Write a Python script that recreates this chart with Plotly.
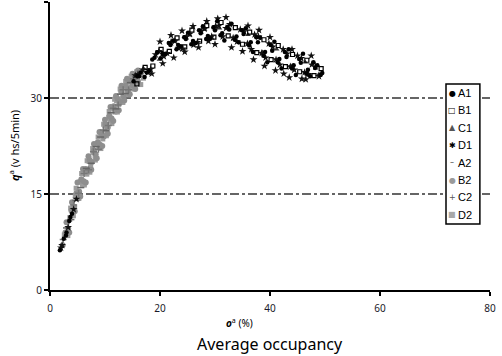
import plotly.graph_objects as go

# ---------------- data ----------------
A1_x = [1.8, 2.5, 2.9, 3.0, 3.5, 3.7, 4.0,
        15.2, 16.5, 18.0, 19.5, 21.0, 22.4, 23.8, 25.1, 26.5, 27.8, 29.1, 30.4, 31.7,
        33.0, 34.3, 35.6, 36.9, 38.2, 39.5, 40.8, 42.1, 43.4, 44.7, 46.0, 47.3, 48.6,
        15.9, 17.2, 18.6, 20.1, 21.6, 23.0, 24.4, 25.7, 27.1, 28.4, 29.7, 31.0, 32.3,
        33.6, 34.9, 36.2, 37.5, 38.8, 40.1, 41.4, 42.7, 44.0, 45.3, 46.6, 47.9, 49.2,
        16.2, 17.6, 19.0, 20.5, 21.9, 23.3, 24.7, 26.0, 27.4, 28.7, 30.0, 31.3, 32.6,
        33.9, 35.2, 36.5, 37.8, 39.1, 40.4, 41.7, 43.0, 44.3, 45.6, 46.9, 48.2, 49.5]
A1_y = [6.2, 8.0, 8.5, 9.0, 10.8, 11.4, 11.9,
        32.6, 34.0, 34.2, 37.1, 36.9, 39.0, 38.1, 40.2, 38.6, 41.2, 39.3, 42.0, 39.0,
        41.6, 38.7, 40.9, 37.2, 39.4, 35.6, 38.8, 34.6, 37.6, 33.6, 36.9, 33.4, 35.1,
        33.4, 33.3, 36.0, 36.2, 38.6, 37.6, 39.5, 38.4, 40.6, 39.2, 41.0, 39.8, 41.1,
        39.1, 40.6, 38.2, 39.5, 36.6, 38.3, 35.6, 37.2, 34.6, 36.1, 33.8, 35.6, 33.6,
        33.4, 34.0, 36.3, 36.9, 38.3, 38.3, 39.2, 38.9, 40.1, 39.7, 40.6, 40.1, 40.7,
        39.6, 40.0, 38.7, 38.7, 37.2, 37.4, 36.1, 36.4, 35.1, 35.5, 34.4, 34.7, 33.9]

B1_x = [15.8, 17.3, 18.7, 20.2, 21.7, 23.1, 24.5, 25.8, 27.2, 28.5, 29.8, 31.1, 32.4,
        33.7, 35.0, 36.3, 37.6, 38.9, 40.2, 41.5, 42.8, 44.1, 45.4, 46.7, 48.0, 49.3]
B1_y = [32.2, 34.8, 35.0, 37.6, 37.3, 39.4, 38.0, 40.6, 38.9, 41.3, 39.5, 41.8, 39.7,
        41.0, 38.4, 40.3, 37.1, 39.1, 36.0, 38.2, 34.9, 36.8, 34.1, 35.9, 33.5, 34.6]

C1_x = [17.0, 19.9, 22.7, 25.4, 28.1, 30.8, 33.4, 36.0, 38.6, 41.2, 43.8, 46.4, 48.9]
C1_y = [34.6, 36.0, 38.9, 39.8, 40.7, 40.9, 39.2, 39.9, 37.2, 37.6, 35.0, 35.6, 33.7]

D1_x = [2.0, 2.2, 3.3, 4.3, 4.8,
        16.0, 17.8, 19.2, 20.7, 22.0, 23.4, 24.8, 26.1, 27.5, 28.8, 30.1, 31.4, 32.7,
        34.0, 35.3, 36.6, 37.9, 39.2, 40.5, 41.8, 43.1, 44.4, 45.7, 47.0, 48.3,
        15.5, 16.9, 18.3, 19.8, 21.3, 22.7, 24.1, 25.4, 26.8, 28.1, 29.4, 30.7, 32.0,
        33.3, 34.6, 35.9, 37.2, 38.5, 39.8, 41.1, 42.4, 43.7, 45.0, 46.3, 47.6, 48.9,
        42.5, 44.0, 45.8, 40.0, 38.0, 36.0, 30.5, 28.5, 32.0, 26.0, 24.0, 22.0, 20.0,
        47.5, 46.5, 43.5, 41.0, 39.0, 37.0, 35.0, 33.0, 30.0, 27.0, 24.5, 22.5, 20.5, 18.5]
D1_y = [6.6, 7.0, 9.8, 12.6, 14.2,
        33.7, 34.0, 36.8, 36.5, 38.7, 37.8, 39.6, 38.3, 40.5, 38.9, 41.2, 39.6, 41.5,
        38.8, 40.4, 37.6, 39.6, 36.3, 38.0, 35.2, 36.9, 34.4, 36.2, 33.7, 34.9,
        33.5, 34.4, 34.5, 37.3, 37.0, 38.9, 37.7, 40.0, 38.7, 40.8, 39.6, 41.3, 40.9,
        39.4, 40.7, 38.5, 39.9, 37.0, 38.5, 36.0, 37.6, 34.9, 36.6, 34.0, 35.2, 33.4,
        33.8, 37.6, 33.0, 39.5, 40.6, 41.3, 42.4, 42.0, 42.6, 41.2, 40.5, 39.8, 38.8,
        36.6, 32.9, 33.2, 34.3, 35.0, 36.0, 37.3, 37.9, 38.4, 37.9, 37.2, 36.3, 35.4, 33.8]

A2_x = [3.0, 3.8, 4.7, 5.6, 6.6, 7.5, 8.4, 9.2, 10.2, 11.1, 12.0, 12.8, 13.7, 14.6, 15.6]
A2_y = [9.7, 11.0, 14.0, 16.0, 19.0, 19.8, 22.4, 23.9, 24.9, 27.7, 28.3, 30.6, 30.7, 32.4, 33.3]

B2_x = [2.3, 2.8, 3.3, 3.9, 4.4, 4.8, 5.3, 5.7, 6.1, 6.5, 6.9, 7.2, 7.6, 8.0, 8.3, 8.7,
        9.1, 9.4, 9.8, 10.1, 10.5, 10.8, 11.2, 11.6, 11.9, 12.3, 12.7, 13.0, 13.4, 13.8,
        14.2, 14.6, 15.0, 15.5, 16.0, 16.6,
        3.0, 3.5, 4.0, 4.5, 5.0, 5.5, 6.0, 6.5, 7.0, 7.5, 8.0, 8.5, 9.0, 9.5, 10.0,
        10.5, 11.0, 11.5, 12.0, 12.5, 13.0, 13.5, 14.0, 14.5, 15.0, 15.5, 16.0]
B2_y = [7.0, 9.0, 9.6, 12.4, 13.0, 15.1, 15.4, 17.3, 17.0, 18.9, 18.6, 20.3, 20.0, 21.8,
        21.2, 23.1, 22.7, 24.4, 24.0, 25.9, 25.4, 27.2, 26.8, 28.7, 28.1, 29.9, 29.4, 31.0,
        30.3, 31.9, 31.2, 32.7, 32.0, 33.3, 32.6, 34.0,
        10.6, 9.0, 13.7, 12.3, 16.8, 14.6, 18.9, 16.8, 20.9, 18.8, 22.8, 20.6, 24.7, 22.5,
        26.6, 24.4, 28.6, 26.4, 30.3, 28.1, 31.9, 29.6, 33.0, 30.6, 33.8, 31.4, 34.3]

C2_x = [2.4, 3.4, 4.3, 5.2, 6.2, 7.0, 7.9, 8.8, 9.7, 10.6, 11.5, 12.4, 13.3, 14.3, 15.2, 16.2]
C2_y = [7.9, 10.8, 13.3, 15.1, 18.2, 18.8, 21.6, 22.0, 25.0, 25.7, 28.4, 28.9, 31.3, 31.3, 33.0, 33.6]

D2_x = [2.6, 3.1, 3.6, 4.1, 4.6, 5.1, 5.5, 5.9, 6.3, 6.7, 7.1, 7.4, 7.8, 8.2, 8.5, 8.9,
        9.3, 9.6, 10.0, 10.3, 10.7, 11.0, 11.4, 11.8, 12.1, 12.5, 12.9, 13.2, 13.6, 14.0,
        14.4, 14.8, 15.3, 15.8, 16.3, 17.0,
        3.25, 3.75, 4.25, 4.75, 5.25, 5.75, 6.25, 6.75, 7.25, 7.75, 8.25, 8.75, 9.25, 9.75,
        10.25, 10.75, 11.25, 11.75, 12.25, 12.75, 13.25, 13.75, 14.25, 14.75, 15.25, 15.75, 16.5]
D2_y = [8.6, 9.0, 11.3, 12.0, 14.7, 14.8, 16.9, 16.5, 18.5, 18.1, 20.1, 19.4, 21.5, 21.0,
        22.8, 22.2, 24.2, 23.6, 25.7, 25.0, 27.0, 26.4, 28.4, 27.8, 29.6, 29.0, 30.9, 30.0,
        31.7, 30.9, 32.5, 31.7, 33.2, 32.4, 33.8, 33.1,
        8.5, 12.8, 11.6, 15.9, 14.3, 18.2, 16.4, 20.2, 18.4, 22.1, 20.3, 23.9, 22.1, 25.9,
        24.1, 27.9, 26.0, 29.8, 27.8, 31.4, 29.3, 32.6, 30.5, 33.4, 31.4, 34.1, 32.1]

ref_levels = [15, 30]
x_ticks = [0, 20, 40, 60, 80]
y_ticks = [0, 15, 30, 45]
legend_names = ["A1", "B1", "C1", "D1", "A2", "B2", "C2", "D2"]
legend_glyphs = ["●", "□", "▲", "✱", "–", "●", "+", "■"]
legend_colors = ["#000000", "#000000", "#555555", "#000000", "#444444", "#9a9a9a", "#555555", "#a8a8a8"]

# ---------------- figure ----------------
fig = go.Figure()

series = [
    ("D2", D2_x, D2_y, dict(symbol="square", size=5, color="#9c9c9c")),
    ("B2", B2_x, B2_y, dict(symbol="circle", size=6, color="#8e8e8e")),
    ("C2", C2_x, C2_y, dict(symbol="cross-thin-open", size=5, color="#777777", line=dict(width=1.5, color="#777777"))),
    ("A2", A2_x, A2_y, dict(symbol="line-ew-open", size=5, color="#666666", line=dict(width=1.5, color="#666666"))),
    ("C1", C1_x, C1_y, dict(symbol="triangle-up", size=5, color="#333333")),
    ("B1", B1_x, B1_y, dict(symbol="square-open", size=4, color="#000000", line=dict(width=1.2, color="#000000"))),
    ("D1", D1_x, D1_y, dict(symbol="star", size=6, color="#111111")),
    ("A1", A1_x, A1_y, dict(symbol="circle", size=4.5, color="#000000")),
]
for name, xs, ys, mk in series:
    fig.add_trace(go.Scatter(x=xs, y=ys, mode="markers", name=name, marker=mk,
                             showlegend=False, hoverinfo="skip"))

shapes = []
for lv in ref_levels:
    shapes.append(dict(type="line", xref="x", yref="y", x0=0, x1=80, y0=lv, y1=lv,
                       line=dict(color="#333333", width=1.5, dash="dashdot"), layer="below"))

# manual legend box
lx0, lx1 = 0.9, 0.977
ly0, ly1 = 0.229, 0.715
shapes.append(dict(type="rect", xref="paper", yref="paper", x0=lx0, x1=lx1, y0=ly0, y1=ly1,
                   line=dict(color="#000000", width=1.5), fillcolor="white", layer="above"))

annotations = []
for i, (nm, gl, col) in enumerate(zip(legend_names, legend_glyphs, legend_colors)):
    yp = ly1 - (9 + 17.4 * i) / 288
    annotations.append(dict(xref="paper", yref="paper", x=lx0 + 6 / 440, y=yp, text=gl,
                            showarrow=False, xanchor="center", yanchor="middle",
                            font=dict(family="DejaVu Sans", size=8, color=col)))
    annotations.append(dict(xref="paper", yref="paper", x=lx0 + 10 / 440, y=yp, text=nm,
                            showarrow=False, xanchor="left", yanchor="middle",
                            font=dict(family="Liberation Sans", size=11, color="#000000")))

# axis titles
annotations.append(dict(xref="paper", yref="paper", x=(239 - 50) / 440, y=(290 - 323) / 288,
                        text="<b><i>o</i></b><sup>a</sup> (%)", showarrow=False,
                        xanchor="center", yanchor="middle",
                        font=dict(family="Noto Sans", size=10, color="#000000")))
annotations.append(dict(xref="paper", yref="paper", x=0.5, y=(290 - 344) / 288,
                        text="Average occupancy", showarrow=False,
                        xanchor="center", yanchor="middle",
                        font=dict(family="Noto Sans", size=16, color="#000000")))
annotations.append(dict(xref="paper", yref="paper", x=(14 - 50) / 440, y=(290 - 146) / 288,
                        text="<b><i>q</i></b><sup>a</sup> (v hs/5min)", showarrow=False,
                        textangle=-90, xanchor="center", yanchor="middle",
                        font=dict(family="Noto Sans", size=11, color="#000000")))

fig.update_layout(
    width=502, height=356,
    margin=dict(l=50, r=12, t=2, b=66),
    paper_bgcolor="white", plot_bgcolor="white",
    shapes=shapes, annotations=annotations,
    showlegend=False,
)
fig.update_xaxes(range=[0, 80], tickvals=x_ticks, showgrid=False, zeroline=False,
                 showline=True, linecolor="#000000", linewidth=2,
                 ticks="outside", ticklen=4, tickwidth=1.5, tickcolor="#000000",
                 tickfont=dict(family="Noto Sans", size=10, color="#1a1a2a"),
                 ticklabelstandoff=4)
fig.update_yaxes(range=[0, 45], tickvals=y_ticks, showgrid=False, zeroline=False,
                 showline=True, linecolor="#000000", linewidth=2,
                 ticks="outside", ticklen=4, tickwidth=1.5, tickcolor="#000000",
                 tickfont=dict(family="Noto Sans", size=10, color="#1a1a2a"))

fig.write_html("out.html")
